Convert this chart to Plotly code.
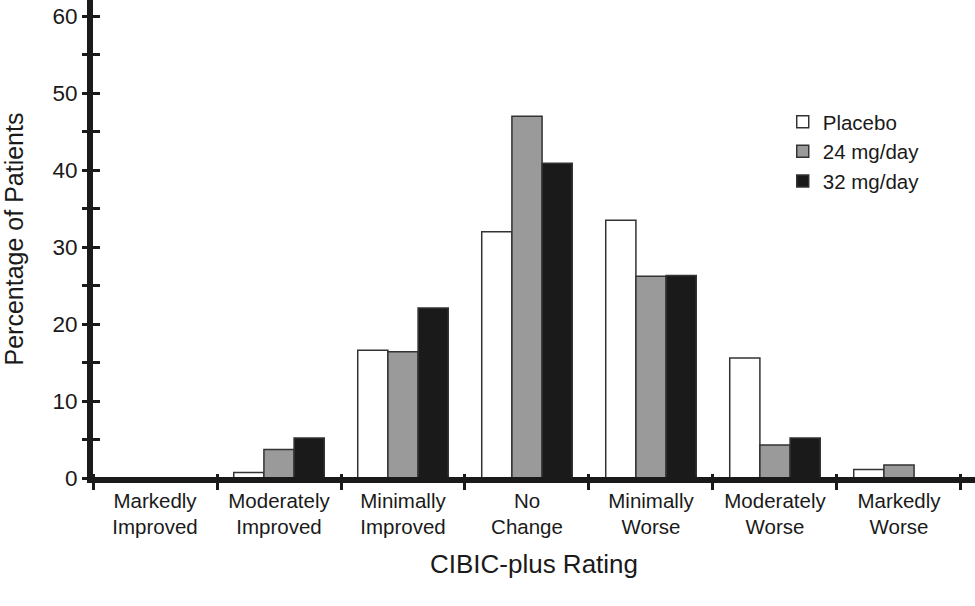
import plotly.graph_objects as go

# ---- data ----
cat_line1 = ["Markedly", "Moderately", "Minimally", "No", "Minimally", "Moderately", "Markedly"]
cat_line2 = ["Improved", "Improved", "Improved", "Change", "Worse", "Worse", "Worse"]
categories = [a + "<br>" + b for a, b in zip(cat_line1, cat_line2)]

series_names = ["Placebo", "24 mg/day", "32 mg/day"]
placebo = [0, 0.7, 16.6, 32.0, 33.5, 15.6, 1.1]
mg24 = [0, 3.7, 16.4, 47.0, 26.2, 4.3, 1.7]
mg32 = [0, 5.2, 22.1, 40.9, 26.3, 5.2, 0]

y_tickvals = [0, 5, 10, 15, 20, 25, 30, 35, 40, 45, 50, 55, 60]
y_ticktext = ["0", "", "10", "", "20", "", "30", "", "40", "", "50", "", "60"]

# ---- style ----
FONT = "Liberation Sans, Arial, Helvetica, sans-serif"
INK = "#1a1a1a"
colors = ["#ffffff", "#9a9a9a", "#1a1a1a"]
outline = "#333333"

fig = go.Figure()
for name, vals, col in zip(series_names, [placebo, mg24, mg32], colors):
    fig.add_trace(go.Bar(
        x=categories, y=vals, name=name,
        marker=dict(color=col, line=dict(color=outline, width=1.5)),
        hoverinfo="skip",
    ))

# invisible trace to carry the overlay axes (inner half of the crossing ticks)
fig.add_trace(go.Scatter(
    x=categories, y=[0] * len(categories), xaxis="x2", yaxis="y2",
    mode="markers", marker=dict(opacity=0), showlegend=False, hoverinfo="skip",
))

xr = [-0.5, 6.613]
yr = [0, 62.1]

fig.update_layout(
    width=975, height=606,
    margin=dict(l=93, r=0, t=0, b=128, autoexpand=False),
    paper_bgcolor="white", plot_bgcolor="white",
    barmode="group", bargap=0.27, bargroupgap=0,
    font=dict(family=FONT, color=INK),
    showlegend=True,
    legend=dict(x=0.782, y=0.787, xanchor="left", yanchor="top",
                font=dict(size=20.5, family=FONT, color=INK),
                bgcolor="rgba(0,0,0,0)", tracegroupgap=0),
    xaxis=dict(
        type="category", range=xr, tickson="boundaries",
        showline=True, linewidth=5, linecolor=INK,
        ticks="outside", ticklen=7, tickwidth=3, tickcolor=INK,
        showticklabels=True, tickfont=dict(size=20.5, family=FONT, color=INK),
        showgrid=False, zeroline=False, automargin=False,
        title=dict(text="CIBIC-plus Rating", font=dict(size=26, family=FONT, color=INK), standoff=19),
        fixedrange=True,
    ),
    yaxis=dict(
        range=yr, tickmode="array", tickvals=y_tickvals, ticktext=y_ticktext,
        showline=True, linewidth=6, linecolor=INK,
        ticks="outside", ticklen=5, tickwidth=3, tickcolor=INK,
        tickfont=dict(size=22.5, family=FONT, color=INK),
        showgrid=False, zeroline=False, automargin=False,
        title=dict(text="Percentage of Patients", font=dict(size=25, family=FONT, color=INK), standoff=25),
        fixedrange=True,
    ),
    xaxis2=dict(
        type="category", overlaying="x", matches="x", anchor="free", position=0, side="top",
        range=xr, tickson="boundaries",
        showline=True, linewidth=2, linecolor=INK,
        ticks="outside", ticklen=3, tickwidth=3, tickcolor=INK,
        showticklabels=False, showgrid=False, zeroline=False, fixedrange=True,
    ),
    yaxis2=dict(
        overlaying="y", matches="y", anchor="x2", side="left", range=yr,
        tickmode="array", tickvals=y_tickvals,
        showline=False, ticks="inside", ticklen=7, tickwidth=3, tickcolor=INK,
        showticklabels=False, showgrid=False, zeroline=False, fixedrange=True,
    ),
)

fig.write_html("out.html", config={"displayModeBar": False},
               post_script="document.body.style.margin='0px';")
